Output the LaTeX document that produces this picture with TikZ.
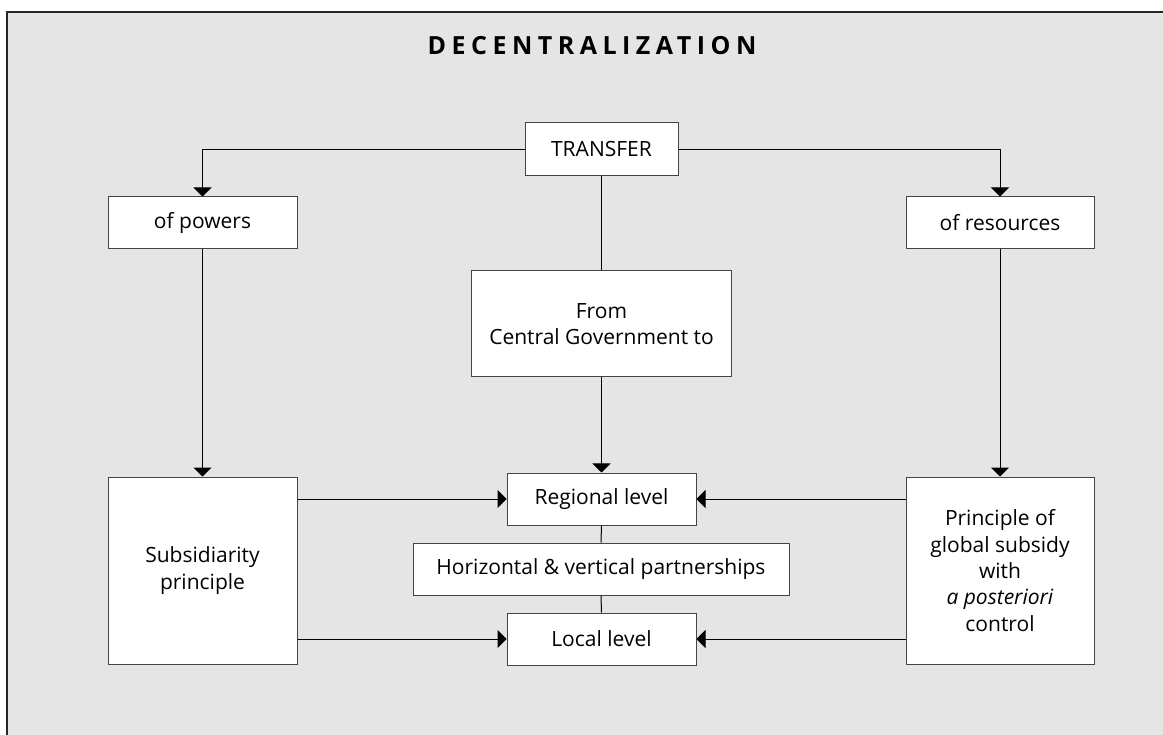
\documentclass[tikz,border=0pt]{standalone}
\usepackage{fontspec}
\setmainfont{Open Sans}
\usetikzlibrary{arrows.meta}
\definecolor{bggray}{HTML}{E5E5E5}
\definecolor{edgegray}{HTML}{444444}
\begin{document}
\begin{tikzpicture}[x=1pt,y=-1pt,
  box/.style={draw=edgegray,line width=1pt,fill=white,inner sep=0pt,align=center,
    font=\fontsize{21}{26.3}\selectfont},
  conn/.style={line width=1pt,black},
  arr/.style={conn,-{Triangle[length=9pt,width=18pt]}}]
\useasboundingbox (0,0) rectangle (1163,735);
\fill[bggray] (7,12) rectangle (1163,735);
\draw[line width=1.4pt,black!85] (1163,12) -- (7,12) -- (7,735);
\node[font=\fontsize{25}{30}\selectfont\bfseries\addfontfeature{LetterSpace=22}] (title) at (592,46) {DECENTRALIZATION};
\node[box,minimum width=153pt,minimum height=53pt] (transfer) at (601.5,149.5) {TRANSFER};
\node[box,minimum width=189pt,minimum height=52pt] (powers) at (202.5,223) {of powers};
\node[box,minimum width=188pt,minimum height=52pt] (resources) at (1000,223) {of resources};
\node[box,minimum width=260pt,minimum height=106pt] (from) at (601.5,324) {From\\Central Government to};
\node[box,minimum width=189pt,minimum height=52pt] (regional) at (601.5,499) {Regional level};
\node[box,minimum width=376pt,minimum height=52pt] (partner) at (601,569) {Horizontal \& vertical partnerships};
\node[box,minimum width=189pt,minimum height=52pt] (local) at (601.5,639) {Local level};
\node[box,minimum width=189pt,minimum height=187pt] (subsid) at (202.5,570.5) {Subsidiarity\\principle};
\node[box,minimum width=188pt,minimum height=187pt] (principle) at (1000,570.5) {Principle of\\global subsidy\\with\\\textit{a posteriori}\\control};
\draw[arr] (transfer.west) -| (powers.north);
\draw[arr] (transfer.east) -| (resources.north);
\draw[conn] (transfer.south) -- (from.north);
\draw[arr] (from.south) -- (regional.north);
\draw[arr] (powers.south) -- (subsid.north);
\draw[arr] (resources.south) -- (principle.north);
\draw[arr] (subsid.east |- regional.west) -- (regional.west);
\draw[arr] (subsid.east |- local.west) -- (local.west);
\draw[arr] (principle.west |- regional.east) -- (regional.east);
\draw[arr] (principle.west |- local.east) -- (local.east);
\draw[conn] (regional.south) -- (partner.north);
\draw[conn] (partner.south) -- (local.north);
\end{tikzpicture}
\end{document}
